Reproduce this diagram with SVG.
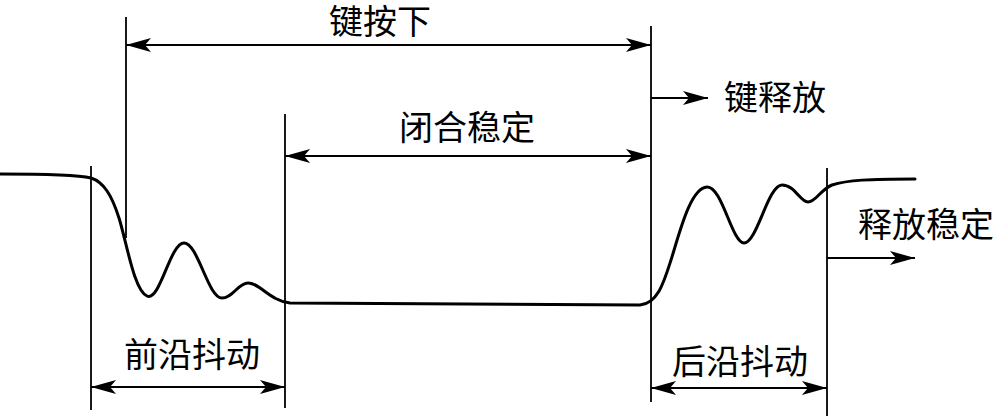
<svg xmlns="http://www.w3.org/2000/svg" width="1000" height="416" viewBox="0 0 1000 416">
  <style>
    .lbl { font-family: "Noto Sans CJK SC", "Liberation Serif", serif; font-size: 34px; fill: #000; text-anchor: middle; }
    .vline { stroke: #000; stroke-width: 1.8; fill: none; }
    .arr { stroke: #000; stroke-width: 2; fill: none; }
    .wave { stroke: #000; stroke-width: 3; fill: none; stroke-linecap: round; stroke-linejoin: round; }
  </style>
  <defs>
    <marker id="ah" viewBox="-26 -8 27 16" refX="0" refY="0" markerWidth="27" markerHeight="16" markerUnits="userSpaceOnUse" orient="auto-start-reverse">
      <path d="M0,0 L-25,-7 L-19,0 L-25,7 Z" fill="#000"/>
    </marker>
  </defs>
  <rect width="1000" height="416" fill="#fff"/>

  <g id="waveform">
    <path class="wave" d="M0,174 C40,174 78,175 91,178 C104,182 112,196 119,218 C127,244 134,290 147,296 C160,302 170,243 184,243 C198,243 208,298 222,298 C233,298 238,283 248,283 C260,283 270,301 290,303 L640,305 C658,303 664,282 671,260 C679,235 690,188 707,187 C722,186 732,243 744,243 C757,243 768,185 782,185 C795,185 800,202 808,202 C816,202 820,190 832,185 C847,180 870,179 915,179"/>
  </g>

  <g id="guides">
    <line class="vline" x1="91" y1="166" x2="91" y2="410"/>
    <line class="vline" x1="126" y1="17" x2="126" y2="238"/>
    <line class="vline" x1="285" y1="114" x2="285" y2="408"/>
    <line class="vline" x1="651" y1="26" x2="651" y2="402"/>
    <line class="vline" x1="827" y1="168" x2="827" y2="416"/>
  </g>

  <g id="connectors">
    <line class="arr" x1="126" y1="45" x2="651" y2="45" marker-start="url(#ah)" marker-end="url(#ah)"/>
    <line class="arr" x1="285" y1="156" x2="651" y2="156" marker-start="url(#ah)" marker-end="url(#ah)"/>
    <line class="arr" x1="651" y1="98" x2="708" y2="98" marker-end="url(#ah)"/>
    <line class="arr" x1="827" y1="258" x2="915" y2="258" marker-end="url(#ah)"/>
    <line class="arr" x1="91" y1="387" x2="285" y2="387" marker-start="url(#ah)" marker-end="url(#ah)"/>
    <line class="arr" x1="651" y1="388" x2="827" y2="388" marker-start="url(#ah)" marker-end="url(#ah)"/>
  </g>

  <g id="label-key-press"><text class="lbl" x="380" y="34">键按下</text></g>
  <g id="label-closed-stable"><text class="lbl" x="467" y="140">闭合稳定</text></g>
  <g id="label-key-release"><text class="lbl" x="775" y="110">键释放</text></g>
  <g id="label-release-stable"><text class="lbl" x="926" y="237">释放稳定</text></g>
  <g id="label-leading-jitter"><text class="lbl" x="192" y="367">前沿抖动</text></g>
  <g id="label-trailing-jitter"><text class="lbl" x="740" y="374">后沿抖动</text></g>
</svg>
